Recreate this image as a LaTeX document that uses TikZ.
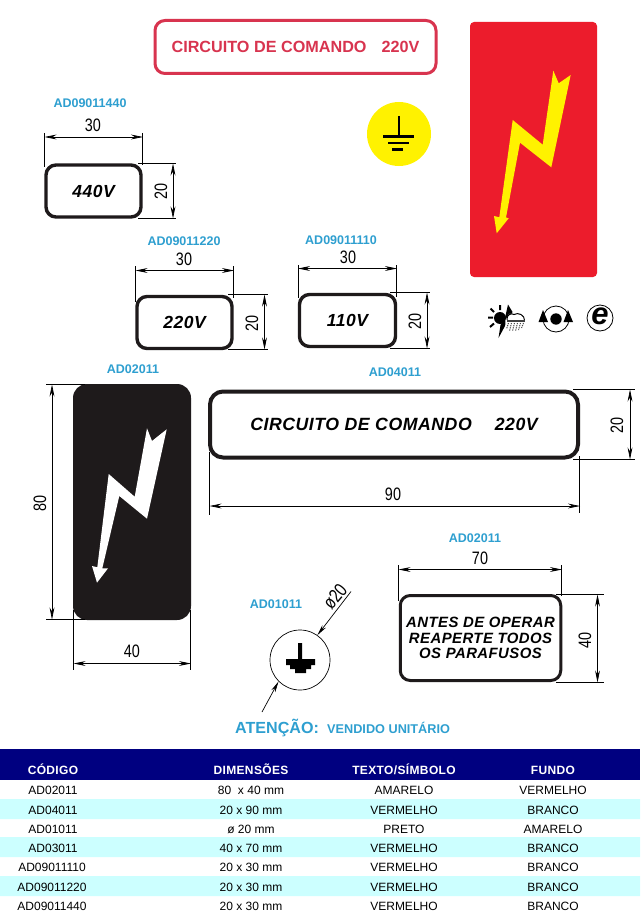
\documentclass[tikz,border=0pt]{standalone}
\usepackage{fontspec}
\setmainfont{Liberation Sans}
\newfontfamily\platefont[LetterSpace=3]{Liberation Sans}
\newfontfamily\hdrfont[LetterSpace=3]{Liberation Sans}
\usetikzlibrary{arrows.meta}
\definecolor{labelblue}{HTML}{2E9FD0}
\definecolor{signred}{HTML}{D8344F}
\definecolor{panelred}{HTML}{EC1C2C}
\definecolor{boltyellow}{HTML}{FFF200}
\definecolor{navy}{HTML}{000080}
\definecolor{rowcyan}{HTML}{CCFFFF}
\definecolor{plateblack}{HTML}{1E1A1B}
\newcommand{\dn}[1]{\scalebox{.8}[1]{#1}}
\tikzset{
  code/.style={font=\bfseries\fontsize{12.5}{14}\selectfont,text=labelblue,inner sep=0pt},
  dimtext/.style={font=\fontsize{18}{20}\selectfont,text=black,inner sep=0pt},
  dimline/.style={draw=black,line width=.7pt,{Stealth[length=12pt,width=4.8pt]}-{Stealth[length=12pt,width=4.8pt]}},
  extline/.style={draw=black,line width=.7pt},
  plate/.style={draw=plateblack,line width=3.4pt,rounded corners=10pt,fill=white,inner sep=0pt,
    font=\platefont\bfseries\itshape\fontsize{17.5}{20}\selectfont},
  hdr/.style={font=\hdrfont\bfseries\fontsize{12}{14}\selectfont,text=white,inner sep=0pt,text height=9pt,text depth=0pt},
  cell/.style={font=\fontsize{12}{14}\selectfont,text=black,inner sep=0pt,text height=9pt,text depth=0pt},
}
\begin{document}
\begin{tikzpicture}[x=1pt,y=-1pt]
\useasboundingbox (0,0) rectangle (640,915);
\fill[white] (0,0) rectangle (640,915);

% red sign
\node[draw=signred,line width=3pt,rounded corners=10pt,minimum width=281,minimum height=53,inner sep=0pt,
  text=signred,font=\bfseries\fontsize{16.2}{18}\selectfont] (redsign) at (295.5,47) {CIRCUITO DE COMANDO\hspace{15pt}220V};

% yellow earth disc
\node[circle,fill=boltyellow,minimum size=64,inner sep=0pt] (disc) at (399,134) {};
\draw[line width=2.4pt] (399,116) -- (399,136) (383,136.5) -- (414,136.5);
\draw[line width=2.4pt] (388,143) -- (409,143) (392,149.5) -- (403,149.5);

% red panel with bolt
\node[fill=panelred,rounded corners=4pt,minimum width=127,minimum height=255,inner sep=0pt] (panel) at (533.5,149.5) {};
\fill[boltyellow] (553.3,70.7) -- (558.7,83.3) -- (570.7,75) -- (551.3,167.3) -- (520,142.7)
  -- (506,217.5) -- (508.7,218.3) -- (496.7,233.3) -- (494,216) -- (499.3,217.3) -- (512.7,120) -- (542.7,144.7) -- cycle;

% AD09011440
\node[code] (c440) at (90,103) {AD09011440};
\node[plate,minimum width=95,minimum height=52] (p440) at (93.5,191) {440V};
\node[dimtext] (w440) at (93,125) {\dn{30}};
\node[dimtext,rotate=90] (h440) at (161,191) {\dn{20}};
\coordinate (a1) at (44.5,133); \coordinate (a2) at (44.5,167);
\coordinate (a3) at (142.5,133); \coordinate (a4) at (142.5,165);
\coordinate (a5) at (44.5,137); \coordinate (a6) at (143,137);
\coordinate (a7) at (138,163.5); \coordinate (a8) at (176,163.5);
\coordinate (a9) at (138,218.5); \coordinate (a10) at (176,218.5);
\coordinate (a11) at (173,163.5); \coordinate (a12) at (173,218.5);
\draw[extline] (a1)--(a2) (a3)--(a4) (a7)--(a8) (a9)--(a10);
\draw[dimline] (a5)--(a6);
\draw[dimline] (a11)--(a12);

% AD09011220
\node[code] (c220) at (184,241) {AD09011220};
\node[plate,minimum width=95,minimum height=52] (p220) at (184.5,322.5) {220V};
\node[dimtext] (w220) at (184,259) {\dn{30}};
\node[dimtext,rotate=90] (h220) at (252,323) {\dn{20}};
\coordinate (b1) at (135.5,266); \coordinate (b2) at (135.5,302);
\coordinate (b3) at (233.5,266); \coordinate (b4) at (233.5,298);
\coordinate (b5) at (135.5,270.5); \coordinate (b6) at (234,270.5);
\coordinate (b7) at (228,294.5); \coordinate (b8) at (268,294.5);
\coordinate (b9) at (228,349.5); \coordinate (b10) at (268,349.5);
\coordinate (b11) at (264.5,294.5); \coordinate (b12) at (264.5,349.5);
\draw[extline] (b1)--(b2) (b3)--(b4) (b7)--(b8) (b9)--(b10);
\draw[dimline] (b5)--(b6);
\draw[dimline] (b11)--(b12);

% AD09011110
\node[code] (c110) at (341,240) {AD09011110};
\node[plate,minimum width=96,minimum height=52] (p110) at (347.5,320.5) {110V};
\node[dimtext] (w110) at (348,257) {\dn{30}};
\node[dimtext,rotate=90] (h110) at (415,321) {\dn{20}};
\coordinate (d1) at (298,265); \coordinate (d2) at (298,298);
\coordinate (d3) at (396.5,265); \coordinate (d4) at (396.5,297);
\coordinate (d5) at (298,268.5); \coordinate (d6) at (397,268.5);
\coordinate (d7) at (390,292.5); \coordinate (d8) at (430,292.5);
\coordinate (d9) at (390,348.5); \coordinate (d10) at (430,348.5);
\coordinate (d11) at (427,292.5); \coordinate (d12) at (427,348.5);
\draw[extline] (d1)--(d2) (d3)--(d4) (d7)--(d8) (d9)--(d10);
\draw[dimline] (d5)--(d6);
\draw[dimline] (d11)--(d12);

% small icons: sun, cloud and lightning
\begin{scope}
\fill (500,318) circle (6);
\draw[line width=2pt] (500,305)--(500,310) (490.5,308.5)--(494,312) (488,317.5)--(493,317.5) (490,327)--(494,323.5);
\fill (508,304.5) -- (512.5,312) -- (505,326) -- (498.5,338) -- (500.5,325) -- (505,318) -- cycle;
\fill[white] (505.5,320) -- (509,314) -- (521,313.5) -- (526,320) -- (526,331) -- (505,331) -- cycle;
\draw[line width=1pt] (507,320) .. controls (506,314) and (512,313) .. (514,314.5) .. controls (518,312) and (525,315) .. (524.5,320.5);
\fill[black!75] (507,319.5) rectangle (524.5,322);
\draw[black!70,line width=1pt,dash pattern=on 1.2pt off 1pt]
  (508.5,323)--(506.5,329) (511.5,323)--(509.5,331) (514.5,323)--(512.5,331) (517.5,323)--(515.5,331) (520.5,323)--(518.5,330) (523.5,323)--(521.5,328);
\end{scope}
% rotation icon
\node[circle,draw=black,line width=.8pt,minimum size=26,inner sep=0pt] (rot) at (556,319) {};
\fill (556,319) circle (5.7);
\fill (543,310) -- (548,322) -- (538.5,322) -- cycle;
\fill (568,310) -- (573,322) -- (563.5,322) -- cycle;
% e icon
\node[circle,draw=black,line width=.8pt,minimum size=26,inner sep=0pt] (eco) at (600,318) {};
\node[inner sep=0pt,font=\bfseries\itshape\fontsize{31}{31}\selectfont] (ecoe) at (600,316) {e};

% black plate
\node[code] (cblack) at (133,369) {AD02011};
\node[fill=plateblack,rounded corners=14pt,minimum width=118,minimum height=236,inner sep=0pt] (pblack) at (132,502) {};
\fill[white] (147,428.3) -- (152,441) -- (166.7,429.3) -- (147,518.7) -- (119.3,496) -- (102.3,568.3) -- (108,568.3)
  -- (97,582.7) -- (92,566) -- (97.3,567.3) -- (108.7,474) -- (134.7,496.7) -- cycle;
\node[dimtext,rotate=90] (h80) at (40,503) {\dn{80}};
\node[dimtext] (w40) at (132,651) {\dn{40}};
\coordinate (e1) at (46,384.5); \coordinate (e2) at (85,384.5);
\coordinate (e3) at (46,619.5); \coordinate (e4) at (85,619.5);
\coordinate (e5) at (52,384.5); \coordinate (e6) at (52,619.5);
\coordinate (e7) at (73.5,610); \coordinate (e8) at (73.5,669.5);
\coordinate (e9) at (190.5,610); \coordinate (e10) at (190.5,669.5);
\coordinate (e11) at (73.5,663.5); \coordinate (e12) at (191,663.5);
\draw[extline] (e1)--(e2) (e3)--(e4) (e7)--(e8) (e9)--(e10);
\draw[dimline] (e5)--(e6);
\draw[dimline] (e11)--(e12);

% long plate
\node[code] (c04) at (395,372) {AD04011};
\node[plate,line width=4pt,rounded corners=13pt,minimum width=368,minimum height=66,
  font=\platefont\bfseries\itshape\fontsize{17.7}{20}\selectfont] (plong) at (394,424.5) {CIRCUITO DE COMANDO\hspace{23pt}220V};
\node[dimtext] (w90) at (393,494) {\dn{90}};
\node[dimtext,rotate=90] (h20) at (617,425) {\dn{20}};
\coordinate (f1) at (209.5,452); \coordinate (f2) at (209.5,515);
\coordinate (f3) at (579.5,456); \coordinate (f4) at (579.5,513);
\coordinate (f5) at (209.5,506); \coordinate (f6) at (580,506);
\coordinate (f7) at (573,389.5); \coordinate (f8) at (635,389.5);
\coordinate (f9) at (573,459.5); \coordinate (f10) at (635,459.5);
\coordinate (f11) at (630,389.5); \coordinate (f12) at (630,459.5);
\draw[extline] (f1)--(f2) (f3)--(f4) (f7)--(f8) (f9)--(f10);
\draw[dimline] (f5)--(f6);
\draw[dimline] (f11)--(f12);

% warning plate
\node[code] (cwarn) at (475,538) {AD02011};
\node[plate,line width=3pt,minimum width=160.5,minimum height=85,align=center,
  font=\platefont\bfseries\itshape\fontsize{14.9}{15.5}\selectfont] (pwarn) at (480.5,638)
  {ANTES DE OPERAR\\REAPERTE TODOS\\OS PARAFUSOS};
\node[dimtext] (w70) at (480,558) {\dn{70}};
\node[dimtext,rotate=90] (h40) at (585,640) {\dn{40}};
\coordinate (g1) at (398.5,565); \coordinate (g2) at (398.5,601);
\coordinate (g3) at (561.5,565); \coordinate (g4) at (561.5,596);
\coordinate (g5) at (398.5,569.5); \coordinate (g6) at (562,569.5);
\coordinate (g7) at (556,594.5); \coordinate (g8) at (604,594.5);
\coordinate (g9) at (556,682.5); \coordinate (g10) at (604,682.5);
\coordinate (g11) at (597.5,594.5); \coordinate (g12) at (597.5,682.5);
\draw[extline] (g1)--(g2) (g3)--(g4) (g7)--(g8) (g9)--(g10);
\draw[dimline] (g5)--(g6);
\draw[dimline] (g11)--(g12);

% round plate
\node[code] (cround) at (276,604) {AD01011};
\node[circle,draw=black,line width=.7pt,minimum size=60,inner sep=0pt] (pround) at (300,660) {};
\fill (298,643) rectangle (302,660) (286,659) rectangle (315,665) (290,665) rectangle (311,669) (295,669) rectangle (306,673);
\coordinate (lead1) at (262,712);
\coordinate (lead2) at (351,591.5);
\draw[line width=.7pt,-{Stealth[length=11pt,width=4.4pt]}] (lead1) -- (pround.225);
\draw[line width=.7pt,-{Stealth[length=11pt,width=4.4pt]}] (lead2) -- (pround.55);
\node[inner sep=0pt,text=black,rotate=50,font=\fontsize{19}{20}\selectfont] (dia) at (335,596.5) {\dn{ø20}};

% attention line
\node[font=\bfseries\fontsize{16.1}{18}\selectfont,text=labelblue,inner sep=0pt,anchor=west] (att) at (235,727.5) {ATENÇÃO:};
\node[font=\bfseries\fontsize{12.7}{14}\selectfont,text=labelblue,inner sep=0pt,anchor=west] (sold) at (327,727.5) {VENDIDO UNITÁRIO};

% table
\fill[navy] (0,749) rectangle (640,780);
\fill[rowcyan] (0,799) rectangle (640,819) (0,837) rectangle (640,857) (0,876) rectangle (640,896);
\node[hdr] (h1) at (53,769.5) {CÓDIGO};
\node[hdr] (h2) at (251,769.5) {DIMENSÕES};
\node[hdr] (h3) at (404,769.5) {TEXTO/SÍMBOLO};
\node[hdr] (h4) at (553,769.5) {FUNDO};

\node[cell] (r1a) at (53,789.5) {AD02011};
\node[cell] (r1b) at (251,789.5) {80\ \ x 40 mm};
\node[cell] (r1c) at (404,789.5) {AMARELO};
\node[cell] (r1d) at (553,789.5) {VERMELHO};

\node[cell] (r2a) at (53,809.5) {AD04011};
\node[cell] (r2b) at (251,809.5) {20 x 90 mm};
\node[cell] (r2c) at (404,809.5) {VERMELHO};
\node[cell] (r2d) at (553,809.5) {BRANCO};

\node[cell] (r3a) at (53,828.5) {AD01011};
\node[cell] (r3b) at (251,828.5) {ø 20 mm};
\node[cell] (r3c) at (404,828.5) {PRETO};
\node[cell] (r3d) at (553,828.5) {AMARELO};

\node[cell] (r4a) at (53,847.5) {AD03011};
\node[cell] (r4b) at (251,847.5) {40 x 70 mm};
\node[cell] (r4c) at (404,847.5) {VERMELHO};
\node[cell] (r4d) at (553,847.5) {BRANCO};

\node[cell] (r5a) at (52,866.5) {AD09011110};
\node[cell] (r5b) at (251,866.5) {20 x 30 mm};
\node[cell] (r5c) at (404,866.5) {VERMELHO};
\node[cell] (r5d) at (553,866.5) {BRANCO};

\node[cell] (r6a) at (52,886.5) {AD09011220};
\node[cell] (r6b) at (251,886.5) {20 x 30 mm};
\node[cell] (r6c) at (404,886.5) {VERMELHO};
\node[cell] (r6d) at (553,886.5) {BRANCO};

\node[cell] (r7a) at (52,905.5) {AD09011440};
\node[cell] (r7b) at (251,905.5) {20 x 30 mm};
\node[cell] (r7c) at (404,905.5) {VERMELHO};
\node[cell] (r7d) at (553,905.5) {BRANCO};
\end{tikzpicture}
\end{document}
